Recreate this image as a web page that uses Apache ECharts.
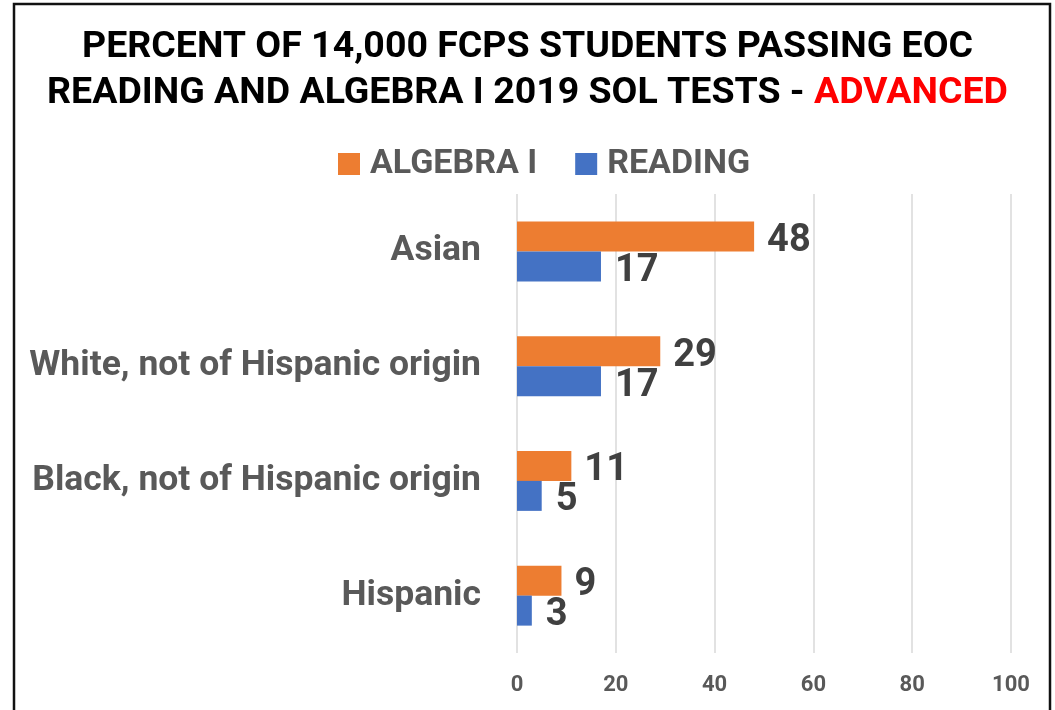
<!DOCTYPE html>
<html>
<head>
<meta charset="utf-8">
<script src="https://cdn.jsdelivr.net/npm/echarts@6/dist/echarts.min.js"></script>
<style>html,body{margin:0;padding:0;background:#fff;}#c{width:1055px;height:710px;}</style>
</head>
<body>
<div id="c"></div>
<script>
var categories = ['Asian', 'White, not of Hispanic origin', 'Black, not of Hispanic origin', 'Hispanic'];
var algebra = [48, 29, 11, 9];
var reading = [17, 17, 5, 3];
var seriesNames = ['ALGEBRA I', 'READING'];

var FONT = "Roboto, sans-serif";
var chart = echarts.init(document.getElementById('c'));
chart.setOption({
  backgroundColor: '#fff',
  textStyle: { fontFamily: FONT },
  graphic: [{
    type: 'rect', shape: { x: 14, y: 4, width: 1036, height: 720 },
    style: { fill: 'none', stroke: '#111', lineWidth: 2.5 }, z: 100
  }],
  title: {
    left: 'center', top: 20,
    text: '{a|PERCENT OF 14,000 FCPS STUDENTS PASSING EOC}\n{a|READING AND ALGEBRA I 2019 SOL TESTS - }{r|ADVANCED}',
    textStyle: {
      rich: {
        a: { fontFamily: FONT, fontWeight: 'bold', fontSize: 37.5, color: '#000', lineHeight: 46 },
        r: { fontFamily: FONT, fontWeight: 'bold', fontSize: 37.5, color: '#ff0000', lineHeight: 46 }
      }
    }
  },
  legend: {
    top: 147, left: 338, padding: 0,
    itemWidth: 22, itemHeight: 22, itemGap: 38,
    icon: 'rect',
    textStyle: { fontFamily: FONT, fontWeight: 'bold', fontSize: 34, color: '#595959', padding: [0, 0, 0, 5] },
    data: seriesNames
  },
  grid: { left: 517, right: 44, top: 194, bottom: 57 },
  xAxis: {
    type: 'value', min: 0, max: 100, interval: 20,
    axisLine: { show: false }, axisTick: { show: false },
    splitLine: { lineStyle: { color: '#d9d9d9', width: 1.5 } },
    axisLabel: { fontFamily: FONT, fontWeight: 'bold', fontSize: 22, color: '#595959', margin: 21 }
  },
  yAxis: {
    type: 'category', data: categories, inverse: true,
    axisLine: { show: false }, axisTick: { show: false },
    axisLabel: { fontFamily: FONT, fontWeight: 'bold', fontSize: 35.5, color: '#595959', margin: 36 }
  },
  series: [
    {
      name: seriesNames[0], type: 'bar', data: algebra, barWidth: 30, barGap: '0%',
      itemStyle: { color: '#ed7d31' },
      label: { show: true, position: 'right', distance: 13, offset: [0, 5], fontFamily: FONT, fontWeight: 'bold', fontSize: 38, color: '#404040' }
    },
    {
      name: seriesNames[1], type: 'bar', data: reading, barWidth: 30, barGap: '0%',
      itemStyle: { color: '#4472c4' },
      label: { show: true, position: 'right', distance: 14, offset: [0, 5], fontFamily: FONT, fontWeight: 'bold', fontSize: 38, color: '#404040' }
    }
  ]
});
</script>
</body>
</html>
